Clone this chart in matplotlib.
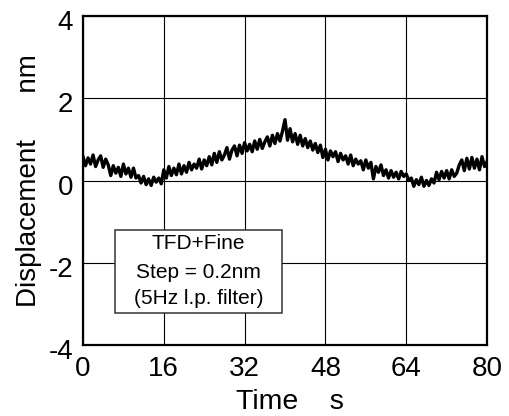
import matplotlib
matplotlib.use('Agg')
import matplotlib.pyplot as plt
from matplotlib.patches import Rectangle
from matplotlib.transforms import ScaledTranslation
import numpy as np

plt.rcParams['font.family'] = ['Liberation Sans', 'DejaVu Sans']

# displacement trace, one value every 0.5 s from 0 to 80 s
time_step = 0.5
displacement = [
    0.58, 0.36, 0.55, 0.40, 0.62, 0.34, 0.50, 0.60, 0.32, 0.52,
    0.38, 0.12, 0.36, 0.18, 0.32, 0.10, 0.40, 0.16, 0.30, 0.08,
    0.30, 0.06, 0.12, -0.06, 0.10, -0.10, 0.04, -0.12, 0.08, -0.04,
    0.06, -0.08, 0.26, 0.06, 0.34, 0.12, 0.30, 0.14, 0.40, 0.16,
    0.36, 0.20, 0.44, 0.26, 0.40, 0.30, 0.52, 0.28, 0.50, 0.36,
    0.58, 0.38, 0.66, 0.44, 0.70, 0.50, 0.62, 0.80, 0.52, 0.74,
    0.84, 0.60, 0.86, 0.66, 0.92, 0.72, 0.88, 0.70, 0.96, 0.76,
    1.00, 0.78, 0.94, 1.06, 0.84, 1.10, 0.90, 1.14, 0.96, 1.20,
    1.48, 0.98, 1.26, 0.94, 1.14, 0.88, 1.10, 0.84, 1.02, 0.80,
    0.96, 0.74, 0.90, 0.68, 0.86, 0.56, 0.76, 0.50, 0.72, 0.58,
    0.70, 0.46, 0.66, 0.50, 0.60, 0.40, 0.62, 0.36, 0.52, 0.40,
    0.48, 0.26, 0.50, 0.30, 0.44, 0.04, 0.34, 0.20, 0.38, 0.12,
    0.26, 0.06, 0.24, 0.08, 0.20, 0.04, 0.22, 0.10, 0.16, 0.00,
    0.06, -0.14, 0.02, -0.10, 0.08, -0.14, 0.00, -0.12, 0.04, -0.06,
    0.20, 0.02, 0.22, 0.06, 0.24, 0.04, 0.26, 0.10, 0.18, 0.38,
    0.50, 0.24, 0.54, 0.28, 0.56, 0.30, 0.52, 0.26, 0.58, 0.34,
    0.46,
]
time = np.arange(len(displacement)) * time_step

x_ticks = [0, 16, 32, 48, 64, 80]
y_ticks = [-4, -2, 0, 2, 4]
y_tick_labels = ['-4', '-2', '0', '2', '4']
note_lines = ['TFD+Fine', 'Step = 0.2nm', '(5Hz l.p. filter)']

fig = plt.figure(figsize=(5.1, 4.16), dpi=100)
ax = fig.add_axes([0.1627, 0.1707, 0.7923, 0.7908])

ax.plot(time, displacement, color='black', lw=2.4, zorder=3)

ax.set_xlim(0, 80)
ax.set_ylim(-4, 4)
ax.set_xticks(x_ticks)
ax.set_yticks(y_ticks)
ax.set_yticklabels(y_tick_labels)
ax.tick_params(length=0, labelsize=20)
ax.tick_params(axis='x', pad=8)
ax.tick_params(axis='y', pad=7)
ax.grid(True, color='black', lw=0.8)
ax.set_axisbelow(True)
for sp in ax.spines.values():
    sp.set_linewidth(1.6)

# y tick labels sit a little below their grid lines in the reference
shift = ScaledTranslation(0, -3 / 72, fig.dpi_scale_trans)
for lab in ax.get_yticklabels():
    lab.set_transform(lab.get_transform() + shift)

ax.set_xlabel('Time    s', fontsize=20.5, labelpad=3)
ax.xaxis.set_label_coords(0.512, -0.135)
ax.set_ylabel('Displacement      nm', fontsize=20, labelpad=5)

# note box over the grid
ax.add_patch(Rectangle((6.34, -3.22), 33.06, 2.02, facecolor='white',
                       edgecolor='#333333', lw=1.1, zorder=4))
for yy, txt in zip([-1.52, -2.23, -2.88], note_lines):
    ax.text(22.9, yy, txt, ha='center', va='center', fontsize=15, zorder=5)

fig.savefig('out.png', dpi=100)
